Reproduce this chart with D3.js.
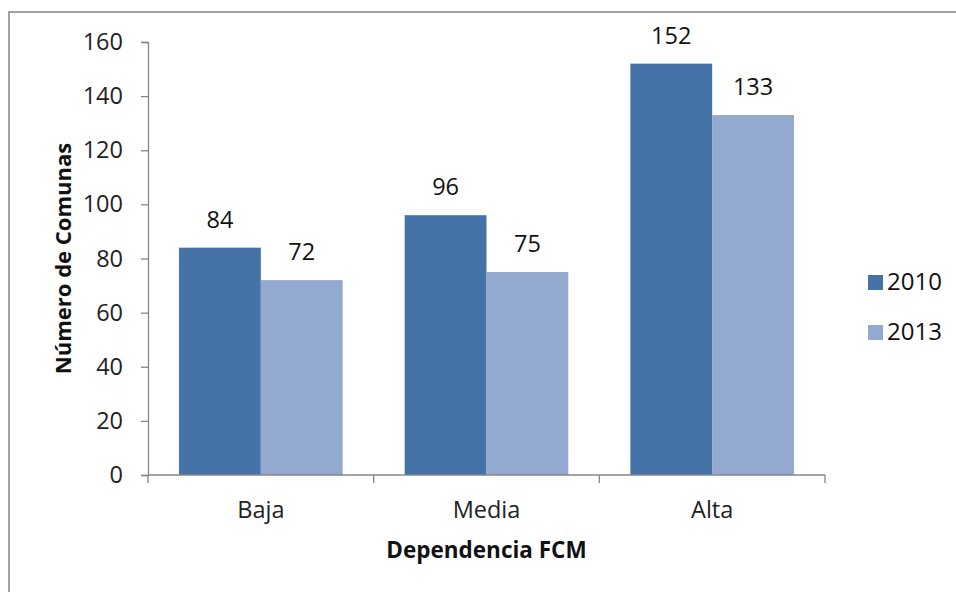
<!DOCTYPE html>
<html><head><meta charset="utf-8">
<script src="https://cdn.jsdelivr.net/npm/d3@7"></script>
<style>body{margin:0;background:#fff}svg{display:block}text{font-family:"Open Sans",sans-serif}</style>
</head><body>
<svg id="c" width="956" height="592"></svg>
<script>
const categories = ["Baja", "Media", "Alta"];
const seriesNames = ["2010", "2013"];
const values2010 = [84, 96, 152];
const values2013 = [72, 75, 133];
const yTicks = [0, 20, 40, 60, 80, 100, 120, 140, 160];
const colors = ["#4572A7", "#93A9CF"];

const svg = d3.select("#c");
const m = {l: 148, r: 825, t: 42, b: 475};
// frame
svg.append("rect").attr("x", 9).attr("y", 12).attr("width", 1000).attr("height", 700)
  .attr("fill", "none").attr("stroke", "#8a8a8a").attr("stroke-width", 1.6);

const x0 = d3.scaleBand().domain(categories).range([m.l, m.r]).paddingInner(0.275).paddingOuter(0.1375);
const x1 = d3.scaleBand().domain(seriesNames).range([0, x0.bandwidth()]);
const y = d3.scaleLinear().domain([0, 160]).range([m.b, m.t]);

const data = categories.map((c, i) => ({cat: c, vals: [values2010[i], values2013[i]]}));

// bars
const g = svg.append("g");
data.forEach(d => {
  d.vals.forEach((v, j) => {
    const bx = x0(d.cat) + x1(seriesNames[j]);
    g.append("rect").attr("x", bx).attr("y", y(v)).attr("width", x1.bandwidth()).attr("height", y(0) - y(v))
      .attr("fill", colors[j]);
    g.append("text").attr("x", bx + x1.bandwidth() / 2).attr("y", y(v) - 20)
      .attr("text-anchor", "middle").attr("font-size", 23.5).attr("fill", "#111").text(v);
  });
});

// y axis
const yAxis = svg.append("g").attr("transform", `translate(${m.l},0)`)
  .call(d3.axisLeft(y).tickValues(yTicks).tickSize(7).tickPadding(18));
yAxis.select(".domain").attr("stroke", "#868686").attr("stroke-width", 1.3);
yAxis.selectAll(".tick line").attr("stroke", "#868686").attr("stroke-width", 1.3);
yAxis.selectAll(".tick text").attr("font-size", 23.5).attr("fill", "#222").attr("font-family", "Open Sans");

// x axis
const xAxis = svg.append("g").attr("transform", `translate(0,${m.b})`)
  .call(d3.axisBottom(x0).tickSize(0).tickPadding(0));
xAxis.select(".domain").attr("stroke", "#868686").attr("stroke-width", 1.3).attr("d", `M${m.l},0H${m.r}`);
xAxis.selectAll(".tick text").attr("font-size", 23.5).attr("fill", "#222").attr("font-family", "Open Sans")
  .attr("y", 43).attr("dy", null);
// category boundary ticks
const step = (m.r - m.l) / categories.length;
d3.range(categories.length + 1).forEach(i => {
  xAxis.append("line").attr("x1", m.l + i * step).attr("x2", m.l + i * step).attr("y1", 0).attr("y2", 8)
    .attr("stroke", "#868686").attr("stroke-width", 1.3);
});

// axis titles
svg.append("text").attr("x", (m.l + m.r) / 2).attr("y", 558).attr("text-anchor", "middle")
  .attr("font-size", 22.5).attr("font-weight", "bold").attr("fill", "#111").text("Dependencia FCM");
svg.append("text").attr("transform", `translate(71,${(m.t + m.b) / 2}) rotate(-90)`).attr("text-anchor", "middle")
  .attr("font-size", 22).attr("font-weight", "bold").attr("fill", "#111").text("Número de Comunas");

// legend
seriesNames.forEach((s, j) => {
  const ly = 275 + j * 50;
  svg.append("rect").attr("x", 868).attr("y", ly).attr("width", 15).attr("height", 15).attr("fill", colors[j]);
  svg.append("text").attr("x", 887).attr("y", ly + 15).attr("font-size", 24).attr("fill", "#111").text(s);
});
</script>
</body></html>
